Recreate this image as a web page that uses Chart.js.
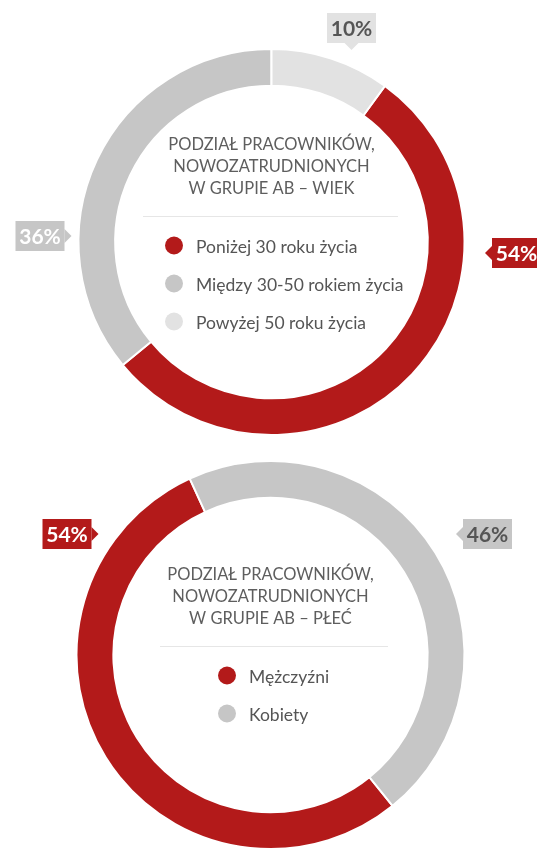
<!DOCTYPE html>
<html>
<head>
<meta charset="utf-8">
<script src="https://cdn.jsdelivr.net/npm/chart.js@4.4.0/dist/chart.umd.min.js"></script>
<style>
html, body { margin: 0; padding: 0; background: #fff; }
#wrap { position: relative; width: 537px; height: 852px; overflow: hidden; }
#ageBox { position: absolute; left: 0; top: 0; width: 537px; height: 440px; }
#sexBox { position: absolute; left: 0; top: 440px; width: 537px; height: 412px; }
</style>
</head>
<body>
<div id="wrap">
  <div id="ageBox"><canvas id="ageChart"></canvas></div>
  <div id="sexBox"><canvas id="sexChart"></canvas></div>
</div>
<script>
// data
var ageLabels = ['Poniżej 30 roku życia', 'Między 30-50 rokiem życia', 'Powyżej 50 roku życia'];
var ageValues = [54, 36, 10];
var ageTitle = ['PODZIAŁ PRACOWNIKÓW,', 'NOWOZATRUDNIONYCH', 'W GRUPIE AB – WIEK'];

var sexLabels = ['Mężczyźni', 'Kobiety'];
var sexValues = [54, 46];
var sexTitle = ['PODZIAŁ PRACOWNIKÓW,', 'NOWOZATRUDNIONYCH', 'W GRUPIE AB – PŁEĆ'];

var RED = '#b31a1a', GRAY = '#c6c6c6', LIGHT = '#e2e2e2';
var FONT = 'Lato, "Open Sans", sans-serif';

// draws the title, separator and legend inside the ring plus the % callouts
var centerInfo = {
    id: 'centerInfo',
    afterDraw: function(chart, args, opts) {
        var ctx = chart.ctx;
        var arc = chart.getDatasetMeta(0).data[0];
        var cx = arc.x, cy = arc.y;
        var ds = chart.data.datasets[0];
        ctx.save();

        ctx.fillStyle = '#5e5e5e';
        ctx.font = '16.5px ' + FONT;
        ctx.textAlign = 'center';
        ctx.textBaseline = 'middle';
        opts.title.forEach(function(t, i) {
            ctx.fillText(t, cx, cy + opts.top + i * 22);
        });

        var ruleY = Math.round(cy + opts.top + 44 + 27) + 0.5;
        ctx.strokeStyle = '#e6e6e6';
        ctx.lineWidth = 1;
        ctx.beginPath();
        ctx.moveTo(cx - opts.rule / 2 + opts.ruleShift, ruleY);
        ctx.lineTo(cx + opts.rule / 2 + opts.ruleShift, ruleY);
        ctx.stroke();

        var left = cx + opts.legendDx;
        ctx.font = '17.5px ' + FONT;
        ctx.textAlign = 'left';
        chart.data.labels.forEach(function(l, i) {
            var y = ruleY + 29 + i * 38;
            ctx.fillStyle = ds.backgroundColor[i];
            ctx.beginPath();
            ctx.arc(left + 9, y, 9, 0, Math.PI * 2);
            ctx.fill();
            ctx.fillStyle = '#555';
            ctx.fillText(l, left + 31, y + 2);
        });

        ctx.font = 'bold 21px ' + FONT;
        ctx.textAlign = 'center';
        opts.callouts.forEach(function(c) {
            var bx = cx + c.dx, by = cy + c.dy;
            var bw = 49, bh = 30;
            ctx.fillStyle = ds.backgroundColor[c.index];
            ctx.fillRect(bx - bw / 2, by - bh / 2, bw, bh);
            ctx.beginPath();
            if (c.pointer === 'down') {
                ctx.moveTo(bx - 7, by + bh / 2);
                ctx.lineTo(bx + 7, by + bh / 2);
                ctx.lineTo(bx, by + bh / 2 + 7);
            } else if (c.pointer === 'left') {
                ctx.moveTo(bx - bw / 2, by - 7);
                ctx.lineTo(bx - bw / 2, by + 7);
                ctx.lineTo(bx - bw / 2 - 7, by);
            } else {
                ctx.moveTo(bx + bw / 2, by - 7);
                ctx.lineTo(bx + bw / 2, by + 7);
                ctx.lineTo(bx + bw / 2 + 7, by);
            }
            ctx.fill();
            ctx.fillStyle = c.color;
            ctx.fillText(ds.data[c.index] + '%', bx, by + 1);
        });
        ctx.restore();
    }
};

function makeDonut(id, labels, values, colors, rotation, padding, info) {
    return new Chart(document.getElementById(id).getContext('2d'), {
        type: 'doughnut',
        data: {
            labels: labels,
            datasets: [{
                data: values,
                backgroundColor: colors,
                borderColor: '#fff',
                borderWidth: 2,
                hoverOffset: 0
            }]
        },
        options: {
            responsive: true,
            maintainAspectRatio: false,
            animation: false,
            rotation: rotation,
            cutout: '81%',
            layout: { padding: padding },
            events: [],
            plugins: {
                legend: { display: false },
                tooltip: { enabled: false },
                centerInfo: info
            }
        },
        plugins: [centerInfo]
    });
}

var ageChart = makeDonut('ageChart', ageLabels, ageValues, [RED, GRAY, LIGHT], 36,
    { left: 77.5, right: 71.5, top: 48, bottom: 4 },
    {
        title: ageTitle, top: -97, rule: 255, ruleShift: -1, legendDx: -106.5,
        callouts: [
            { index: 2, dx: 80, dy: -214, pointer: 'down', color: '#555' },
            { index: 0, dx: 245, dy: 11, pointer: 'left', color: '#fff' },
            { index: 1, dx: -231.5, dy: -6, pointer: 'right', color: '#fff' }
        ]
    });

var sexChart = makeDonut('sexChart', sexLabels, sexValues, [RED, GRAY], 141,
    { left: 75.5, right: 71.5, top: 20, bottom: 2 },
    {
        title: sexTitle, top: -80, rule: 228, ruleShift: 3.5, legendDx: -52.5,
        callouts: [
            { index: 0, dx: -203.5, dy: -121, pointer: 'right', color: '#fff' },
            { index: 1, dx: 217, dy: -121, pointer: 'left', color: '#555' }
        ]
    });
</script>
</body>
</html>
